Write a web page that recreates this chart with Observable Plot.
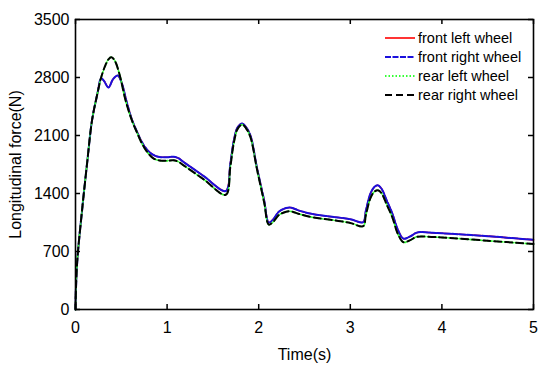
<!DOCTYPE html>
<html>
<head>
<meta charset="utf-8">
<script src="https://cdn.jsdelivr.net/npm/d3@7"></script>
<script src="https://cdn.jsdelivr.net/npm/@observablehq/plot@0.6"></script>
<style>
  body { margin: 0; background: #fff; }
  #wrap { position: relative; width: 550px; height: 369px; font-family: "Liberation Sans", Arial, sans-serif; }
  #legend { position: absolute; left: 383px; top: 28px; font-size: 14.5px; color: #000; }
  .row { display: flex; align-items: center; height: 19px; white-space: nowrap; }
  .row svg { width: 34px; height: 19px; flex: none; margin-right: 1px; }
</style>
</head>
<body>
<div id="wrap"><div id="legend"></div></div>
<script>
const seriesNames = ["front left wheel", "front right wheel", "rear left wheel", "rear right wheel"];
const xTicks = [0, 1, 2, 3, 4, 5];
const yTicks = [0, 700, 1400, 2100, 2800, 3500];

const tFront = [0, 0.005, 0.02, 0.07, 0.13, 0.18, 0.24, 0.28, 0.31, 0.36, 0.41, 0.46, 0.50, 0.56, 0.62, 0.67, 0.72, 0.78, 0.85, 0.92, 1.0, 1.07, 1.12, 1.18, 1.40, 1.64, 1.69, 1.73, 1.77, 1.82, 1.86, 1.91, 1.98, 2.06, 2.11, 2.16, 2.22, 2.30, 2.35, 2.45, 2.6, 2.8, 3.0, 3.14, 3.17, 3.22, 3.26, 3.30, 3.34, 3.40, 3.46, 3.52, 3.58, 3.65, 3.72, 3.78, 3.9, 4.0, 4.5, 5.0];
const frontLeft = [0, 250, 600, 1180, 1800, 2280, 2610, 2790, 2760, 2680, 2780, 2824, 2750, 2500, 2280, 2150, 2030, 1930, 1865, 1840, 1838, 1843, 1828, 1780, 1610, 1430, 1760, 2050, 2200, 2245, 2205, 2100, 1717, 1315, 1050, 1090, 1180, 1225, 1230, 1190, 1150, 1120, 1090, 1055, 1195, 1400, 1476, 1500, 1460, 1310, 1155, 960, 855, 880, 925, 935, 925, 920, 885, 840];
const frontRight = [0, 250, 600, 1180, 1800, 2280, 2610, 2790, 2760, 2680, 2780, 2824, 2750, 2500, 2280, 2150, 2030, 1930, 1865, 1840, 1838, 1843, 1828, 1780, 1610, 1430, 1760, 2050, 2200, 2245, 2205, 2100, 1717, 1315, 1050, 1090, 1180, 1225, 1230, 1190, 1150, 1120, 1090, 1055, 1195, 1400, 1476, 1500, 1460, 1310, 1155, 960, 855, 880, 925, 935, 925, 920, 885, 840];

const tRear = [0, 0.005, 0.02, 0.07, 0.13, 0.18, 0.24, 0.28, 0.32, 0.36, 0.39, 0.43, 0.48, 0.55, 0.62, 0.67, 0.72, 0.78, 0.85, 0.92, 1.0, 1.07, 1.12, 1.18, 1.40, 1.64, 1.69, 1.73, 1.77, 1.82, 1.86, 1.91, 1.98, 2.06, 2.11, 2.16, 2.22, 2.30, 2.35, 2.45, 2.6, 2.8, 3.0, 3.14, 3.17, 3.22, 3.26, 3.30, 3.34, 3.40, 3.46, 3.52, 3.58, 3.65, 3.72, 3.78, 3.9, 4.0, 4.5, 5.0];
const rearLeft = [0, 250, 600, 1180, 1800, 2280, 2610, 2800, 2930, 3020, 3045, 3000, 2840, 2510, 2270, 2140, 2015, 1905, 1825, 1797, 1795, 1800, 1785, 1740, 1570, 1385, 1720, 2020, 2180, 2232, 2190, 2080, 1700, 1290, 1025, 1060, 1140, 1180, 1185, 1150, 1110, 1080, 1045, 1005, 1140, 1345, 1418, 1440, 1405, 1260, 1110, 910, 812, 835, 875, 882, 875, 870, 830, 790];
const rearRight = [0, 250, 600, 1180, 1800, 2280, 2610, 2800, 2930, 3020, 3045, 3000, 2840, 2510, 2270, 2140, 2015, 1905, 1825, 1797, 1795, 1800, 1785, 1740, 1570, 1385, 1720, 2020, 2180, 2232, 2190, 2080, 1700, 1290, 1025, 1060, 1140, 1180, 1185, 1150, 1110, 1080, 1045, 1005, 1140, 1345, 1418, 1440, 1405, 1260, 1110, 910, 812, 835, 875, 882, 875, 870, 830, 790];

const styles = [
  {stroke: "#ff0000", strokeWidth: 1.6, dash: null},
  {stroke: "#1a10dd", strokeWidth: 2, dash: "6,1.5"},
  {stroke: "#33ff33", strokeWidth: 1.8, dash: "1.5,2"},
  {stroke: "#000000", strokeWidth: 2, dash: "7,4"}
];

const toRows = (ts, vs) => ts.map((t, i) => ({t, v: vs[i]}));
const data = [toRows(tFront, frontLeft), toRows(tFront, frontRight), toRows(tRear, rearLeft), toRows(tRear, rearRight)];

const font = "Liberation Sans, Arial, sans-serif";
const fmt = d3.format("d");
const chart = Plot.plot({
  width: 550, height: 369,
  marginLeft: 75, marginRight: 17, marginTop: 19, marginBottom: 60,
  style: {fontFamily: font, fontSize: "16px", color: "#000", background: "#fff"},
  x: {domain: [0, 5]},
  y: {domain: [0, 3500]},
  marks: [
    ...data.map((d, i) => Plot.line(d, {x: "t", y: "v", curve: "catmull-rom", stroke: styles[i].stroke, strokeWidth: styles[i].strokeWidth, strokeDasharray: styles[i].dash})),
    Plot.frame({stroke: "#000", strokeWidth: 1.6}),
    Plot.tickX(xTicks, {x: d => d, insetTop: 285, stroke: "#000", strokeWidth: 1.5}),
    Plot.tickX(xTicks, {x: d => d, insetBottom: 285, stroke: "#000", strokeWidth: 1.5}),
    Plot.tickY(yTicks, {y: d => d, insetRight: 453, stroke: "#000", strokeWidth: 1.5}),
    Plot.tickY(yTicks, {y: d => d, insetLeft: 453, stroke: "#000", strokeWidth: 1.5}),
    Plot.axisX(xTicks, {anchor: "bottom", tickSize: 0, tickPadding: 12, tickFormat: fmt, label: "Time(s)", labelArrow: "none", labelAnchor: "center", labelOffset: 50, fontSize: 16}),
    Plot.axisY(yTicks, {anchor: "left", tickSize: 0, tickPadding: 6, tickFormat: fmt, label: "Longitudinal force(N)", labelArrow: "none", labelAnchor: "center", labelOffset: 66, fontSize: 16})
  ]
});
document.getElementById("wrap").prepend(chart);

const legend = document.getElementById("legend");
seriesNames.forEach((name, i) => {
  const row = document.createElement("div");
  row.className = "row";
  const s = styles[i];
  row.innerHTML = `<svg viewBox="0 0 34 19"><line x1="2" x2="32" y1="10" y2="10" stroke="${s.stroke}" stroke-width="${s.strokeWidth}" ${s.dash ? `stroke-dasharray="${s.dash}"` : ""}/></svg><span>${name}</span>`;
  legend.appendChild(row);
});
</script>
</body>
</html>
